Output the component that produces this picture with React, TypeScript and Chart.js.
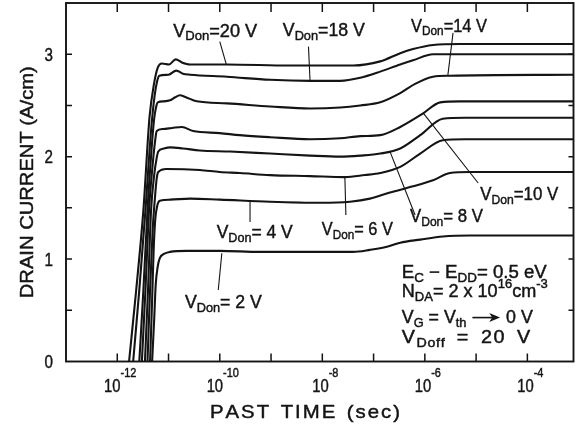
import { useEffect, useRef } from "react";
import { Chart, registerables } from "chart.js";

Chart.register(...registerables);

const SANS = '"Liberation Sans", Arial, "DejaVu Sans", sans-serif';
const INK = "#141414";

// ---------- data: exponent of PAST TIME (log10 of seconds) and DRAIN CURRENT (A/cm) ----------
const LOGT_20V = [-11.77, -11.63, -11.49, -11.37, -11.28, -11.21, -11.13, -10.99, -10.86, -10.74, -10.58, -9.86, -8.63, -7.4, -6.87, -6.48, -6.23, -5.84, -5.31, -3.1];
const CUR_20V = [0, 0.7, 1.48, 2.39, 2.72, 2.87, 2.91, 2.9, 2.95, 2.92, 2.9, 2.9, 2.89, 2.89, 2.93, 3.01, 3.05, 3.09, 3.1, 3.1];

const LOGT_18V = [-11.69, -11.57, -11.45, -11.34, -11.27, -11.22, -11.18, -11.0, -10.85, -10.72, -10.58, -9.86, -9.02, -8.24, -7.65, -7.26, -6.87, -6.48, -6.23, -5.84, -5.31, -3.1];
const CUR_18V = [0, 0.7, 1.48, 2.26, 2.6, 2.74, 2.79, 2.8, 2.84, 2.81, 2.8, 2.78, 2.75, 2.74, 2.74, 2.77, 2.83, 2.9, 2.94, 3.0, 3.0, 3.0];

const LOGT_14V = [-11.57, -11.49, -11.41, -11.33, -11.28, -11.24, -11.21, -11.09, -10.97, -10.87, -10.78, -10.66, -10.45, -9.86, -9.02, -8.24, -7.65, -7.26, -6.87, -6.48, -6.19, -5.84, -5.51, -3.1];
const CUR_14V = [0, 0.7, 1.48, 2.08, 2.37, 2.49, 2.53, 2.54, 2.55, 2.58, 2.6, 2.58, 2.54, 2.52, 2.49, 2.47, 2.48, 2.5, 2.53, 2.62, 2.71, 2.78, 2.79, 2.8];

const LOGT_10V = [-11.52, -11.45, -11.38, -11.31, -11.26, -11.23, -11.11, -10.93, -10.74, -10.52, -10.0, -9.61, -9.02, -8.24, -7.65, -7.26, -6.87, -6.48, -6.04, -5.7, -5.31, -3.1];
const CUR_10V = [0, 0.7, 1.48, 1.92, 2.16, 2.25, 2.27, 2.28, 2.29, 2.25, 2.23, 2.21, 2.19, 2.17, 2.18, 2.2, 2.21, 2.29, 2.42, 2.53, 2.54, 2.54];

const LOGT_8V = [-11.46, -11.4, -11.34, -11.28, -11.23, -11.2, -11.09, -10.97, -10.72, -10.39, -9.8, -9.02, -8.24, -7.65, -7.26, -6.87, -6.48, -6.09, -5.65, -5.22, -3.1];
const CUR_8V = [0, 0.7, 1.48, 1.82, 1.99, 2.05, 2.08, 2.09, 2.08, 2.06, 2.05, 2.03, 2.01, 2.0, 2.01, 2.03, 2.08, 2.21, 2.37, 2.38, 2.38];

const LOGT_6V = [-11.41, -11.36, -11.31, -11.26, -11.23, -11.2, -11.04, -10.39, -10.0, -9.61, -9.02, -8.24, -7.56, -7.17, -6.87, -6.48, -6.09, -5.65, -5.22, -3.1];
const CUR_6V = [0, 0.7, 1.28, 1.63, 1.79, 1.85, 1.88, 1.87, 1.85, 1.84, 1.82, 1.81, 1.8, 1.82, 1.84, 1.9, 2.03, 2.16, 2.17, 2.17];

const LOGT_4V = [-11.36, -11.32, -11.29, -11.26, -11.22, -11.17, -10.97, -10.58, -10.0, -9.02, -8.04, -7.46, -7.07, -6.68, -6.23, -5.84, -5.51, -5.12, -3.1];
const CUR_4V = [0, 0.6, 1.09, 1.38, 1.52, 1.57, 1.58, 1.59, 1.58, 1.56, 1.55, 1.56, 1.59, 1.65, 1.71, 1.77, 1.84, 1.85, 1.85];

const LOGT_2V = [-11.32, -11.28, -11.25, -11.21, -11.17, -11.09, -10.97, -10.65, -10.0, -9.22, -8.44, -7.85, -7.4, -7.07, -6.74, -6.48, -6.09, -5.65, -5.12, -3.1];
const CUR_2V = [0, 0.41, 0.75, 0.93, 1.01, 1.05, 1.07, 1.08, 1.08, 1.07, 1.07, 1.07, 1.07, 1.09, 1.12, 1.16, 1.19, 1.22, 1.23, 1.23];

const SERIES_NAMES = ["VDon = 20 V", "VDon = 18 V", "VDon = 14 V", "VDon = 10 V", "VDon = 8 V", "VDon = 6 V", "VDon = 4 V", "VDon = 2 V"];
const SERIES_LOGT = [LOGT_20V, LOGT_18V, LOGT_14V, LOGT_10V, LOGT_8V, LOGT_6V, LOGT_4V, LOGT_2V];
const SERIES_CUR = [CUR_20V, CUR_18V, CUR_14V, CUR_10V, CUR_8V, CUR_6V, CUR_4V, CUR_2V];

// ---------- axes ----------
const X_MIN_EXP = -13;
const X_MAX_EXP = -3.1;
const Y_MIN = 0;
const Y_MAX = 3.5;
const X_TICK_EXPS = [-12, -11, -10, -9, -8, -7, -6, -5, -4];
const X_LABEL_EXPS = [-12, -10, -8, -6, -4];
const Y_TICKS = [0.5, 1, 1.5, 2, 2.5, 3];
const Y_LABELS = [0, 1, 2, 3];

type Seg = { t: string; s?: "sub" | "sup"; arrow?: number };

const vdon = (v: string): Seg[] => [{ t: "V" }, { t: "Don", s: "sub" }, { t: v }];

// annotation layout: text left/baseline and leader line in data units (log10 t, current)
const CURVE_LABELS: { segs: Seg[]; at: [number, number]; w: number; leader: [number, number][] }[] = [
  { segs: vdon("=20 V"), at: [-10.91, 3.172], w: 84, leader: [[-10.0, 3.123], [-9.87, 2.896]] },
  { segs: vdon("=18 V"), at: [-8.77, 3.179], w: 82, leader: [[-8.27, 3.074], [-8.24, 2.749]] },
  { segs: vdon("=14 V"), at: [-6.27, 3.221], w: 76, leader: [[-5.45, 3.208], [-5.55, 2.798]] },
  { segs: vdon("=10 V"), at: [-4.92, 1.577], w: 78, leader: [[-6.03, 2.424], [-4.96, 1.743]] },
  { segs: vdon("= 8 V"), at: [-6.29, 1.362], w: 73, leader: [[-6.68, 2.049], [-6.19, 1.431]] },
  { segs: vdon("= 6 V"), at: [-8.01, 1.235], w: 71, leader: [[-7.56, 1.802], [-7.54, 1.431]] },
  { segs: vdon("= 4 V"), at: [-10.06, 1.203], w: 76, leader: [[-9.41, 1.558], [-9.41, 1.362]] },
  { segs: vdon("= 2 V"), at: [-10.68, 0.52], w: 77, leader: [[-9.96, 1.057], [-10.03, 0.698]] },
];

const PARAM_LINES: { segs: Seg[]; at: [number, number]; w: number }[] = [
  { segs: [{ t: "E" }, { t: "C", s: "sub" }, { t: " − E" }, { t: "DD", s: "sub" }, { t: "= 0.5 eV" }], at: [-6.45, 0.815], w: 145 },
  { segs: [{ t: "N" }, { t: "DA", s: "sub" }, { t: "= 2 x 10" }, { t: "16", s: "sup" }, { t: "cm" }, { t: "-3", s: "sup" }], at: [-6.45, 0.63], w: 146 },
  { segs: [{ t: "V" }, { t: "G", s: "sub" }, { t: " = V" }, { t: "th", s: "sub" }, { t: " " }, { t: "", arrow: 30 }, { t: " 0 V" }], at: [-6.45, 0.376], w: 131 },
  { segs: [{ t: "V" }, { t: "Doff", s: "sub" }, { t: " = 20 V" }], at: [-6.45, 0.181], w: 130 },
];

const Y_TITLE = "DRAIN CURRENT (A/cm)";
const X_TITLE = "PAST TIME (sec)";

function drawRich(
  ctx: CanvasRenderingContext2D,
  segs: Seg[],
  x: number,
  y: number,
  size: number,
  opts: { width?: number; scaleX?: number; align?: "left" | "center" | "right"; supSize?: number; supRise?: number; maxScale?: number; spaceWeight?: number }
) {
  ctx.save();
  const spaceW = opts.spaceWeight ?? 4;
  type Ch = { ch: string; fs: number; dy: number; w: number; wt: number; arrow?: number };
  const chars: Ch[] = [];
  for (const seg of segs) {
    const fs = seg.s ? size * (opts.supSize ?? 0.7) : size;
    const dy = seg.s === "sub" ? size * 0.2 : seg.s === "sup" ? -size * (opts.supRise ?? 0.48) : 0;
    if (seg.arrow) {
      chars.push({ ch: "", fs, dy, w: seg.arrow, wt: 0, arrow: seg.arrow });
      continue;
    }
    ctx.font = `${fs}px ${SANS}`;
    for (const ch of [...seg.t]) {
      chars.push({ ch, fs, dy, w: ctx.measureText(ch).width, wt: ch === " " ? spaceW : seg.s ? 0.5 : 1 });
    }
  }
  const natural = chars.reduce((a, c) => a + c.w, 0);
  const totalWt = chars.reduce((a, c) => a + c.wt, 0);
  let sx = opts.scaleX ?? 1;
  let unit = 0;
  if (opts.width) {
    const maxS = opts.maxScale ?? 1.1;
    sx = Math.min(maxS, Math.max(0.8, opts.width / natural));
    unit = (opts.width - natural * sx) / Math.max(1, totalWt) / sx;
  }
  const total = (natural + unit * totalWt) * sx;
  let x0 = x;
  if (opts.align === "center") x0 = x - total / 2;
  else if (opts.align === "right") x0 = x - total;
  ctx.translate(x0, y);
  ctx.scale(sx, 1);
  ctx.textAlign = "left";
  ctx.textBaseline = "alphabetic";
  ctx.fillStyle = INK;
  ctx.strokeStyle = INK;
  let cx = 0;
  for (const c of chars) {
    if (c.arrow) {
      const ay = -size * 0.3;
      ctx.lineWidth = 1.6;
      ctx.beginPath();
      ctx.moveTo(cx + 1, ay);
      ctx.lineTo(cx + c.w - 9, ay);
      ctx.stroke();
      ctx.beginPath();
      ctx.moveTo(cx + c.w - 1, ay);
      ctx.lineTo(cx + c.w - 12, ay - 4.5);
      ctx.lineTo(cx + c.w - 9, ay);
      ctx.lineTo(cx + c.w - 12, ay + 4.5);
      ctx.closePath();
      ctx.fill();
      cx += c.w;
      continue;
    }
    if (c.ch !== " ") {
      ctx.font = `${c.fs}px ${SANS}`;
      ctx.lineWidth = 0.45;
      ctx.fillText(c.ch, cx, c.dy);
      ctx.strokeText(c.ch, cx, c.dy);
    }
    cx += c.w + unit * c.wt;
  }
  ctx.restore();
}

const decorPlugin = {
  id: "decor",
  afterDraw(chart: any) {
    const ctx: CanvasRenderingContext2D = chart.ctx;
    const xs = chart.scales.x;
    const ys = chart.scales.y;
    const { left, right, top, bottom } = chart.chartArea;
    const px = (e: number) => xs.getPixelForValue(Math.pow(10, e));
    const py = (v: number) => ys.getPixelForValue(v);

    ctx.save();
    ctx.strokeStyle = INK;
    ctx.fillStyle = INK;
    ctx.lineCap = "butt";

    // frame
    ctx.lineWidth = 1.9;
    ctx.strokeRect(left, top, right - left, bottom - top);

    // ticks (inward)
    ctx.lineWidth = 1.5;
    ctx.beginPath();
    for (const e of X_TICK_EXPS) {
      const x = px(e);
      ctx.moveTo(x, bottom);
      ctx.lineTo(x, bottom - 8);
      ctx.moveTo(x, top);
      ctx.lineTo(x, top + 9);
    }
    for (const v of Y_TICKS) {
      const y = py(v);
      ctx.moveTo(left, y);
      ctx.lineTo(left + 6, y);
      ctx.moveTo(right, y);
      ctx.lineTo(right - 5, y);
    }
    ctx.stroke();

    // tick labels
    for (const v of Y_LABELS) {
      drawRich(ctx, [{ t: String(v) }], left - 13, py(v) + 6.5, 18.5, { scaleX: 0.82, align: "right" });
    }
    for (const e of X_LABEL_EXPS) {
      drawRich(ctx, [{ t: "10" }, { t: "-" + String(-e), s: "sup" }], px(e) + 3, bottom + 30, 18.5, {
        scaleX: 0.8,
        align: "center",
        supSize: 0.74,
        supRise: 0.8,
      });
    }

    // axis titles
    ctx.save();
    ctx.translate(33, (top + bottom) / 2);
    ctx.rotate(-Math.PI / 2);
    drawRich(ctx, [{ t: Y_TITLE }], 0, 0, 18.5, { width: 232, align: "center", spaceWeight: 2 });
    ctx.restore();
    drawRich(ctx, [{ t: X_TITLE }], left + 240, bottom + 56.5, 18.5, { width: 192, align: "center", spaceWeight: 2 });

    // curve labels and leaders
    for (const a of CURVE_LABELS) {
      ctx.lineWidth = 1.1;
      ctx.beginPath();
      a.leader.forEach(([e, v], i) => (i === 0 ? ctx.moveTo(px(e), py(v)) : ctx.lineTo(px(e), py(v))));
      ctx.stroke();
      drawRich(ctx, a.segs, px(a.at[0]), py(a.at[1]), 18.5, { width: a.w, supSize: 0.72 });
    }

    // parameter block
    for (const p of PARAM_LINES) {
      drawRich(ctx, p.segs, px(p.at[0]), py(p.at[1]), 18, { width: p.w, supSize: 0.72, maxScale: 1.1 });
    }
    ctx.restore();
  },
};

export default function App() {
  const ref = useRef<HTMLCanvasElement>(null);
  useEffect(() => {
    const canvas = ref.current;
    if (!canvas) return;
    const chart = new Chart(canvas, {
      type: "line",
      data: {
        datasets: SERIES_NAMES.map((name, k) => ({
          label: name,
          data: SERIES_LOGT[k].map((e, i) => ({ x: Math.pow(10, e), y: SERIES_CUR[k][i] })),
          borderColor: INK,
          borderWidth: 2.1,
          pointRadius: 0,
          fill: false,
          cubicInterpolationMode: "monotone" as const,
        })),
      },
      options: {
        animation: false,
        responsive: false,
        maintainAspectRatio: false,
        events: [],
        layout: { padding: { left: 66, top: 3, right: 13.5, bottom: 65.5 } },
        plugins: { legend: { display: false }, tooltip: { enabled: false }, title: { display: false } },
        scales: {
          x: { type: "logarithmic", min: Math.pow(10, X_MIN_EXP), max: Math.pow(10, X_MAX_EXP), display: false },
          y: { type: "linear", min: Y_MIN, max: Y_MAX, display: false },
        },
      },
      plugins: [decorPlugin],
    });
    return () => chart.destroy();
  }, []);
  return (
    <div style={{ position: "fixed", left: 0, top: 0, width: 587, height: 427, background: "#fff" }}>
      <canvas ref={ref} width={587} height={427} style={{ display: "block", width: 587, height: 427 }} />
    </div>
  );
}
